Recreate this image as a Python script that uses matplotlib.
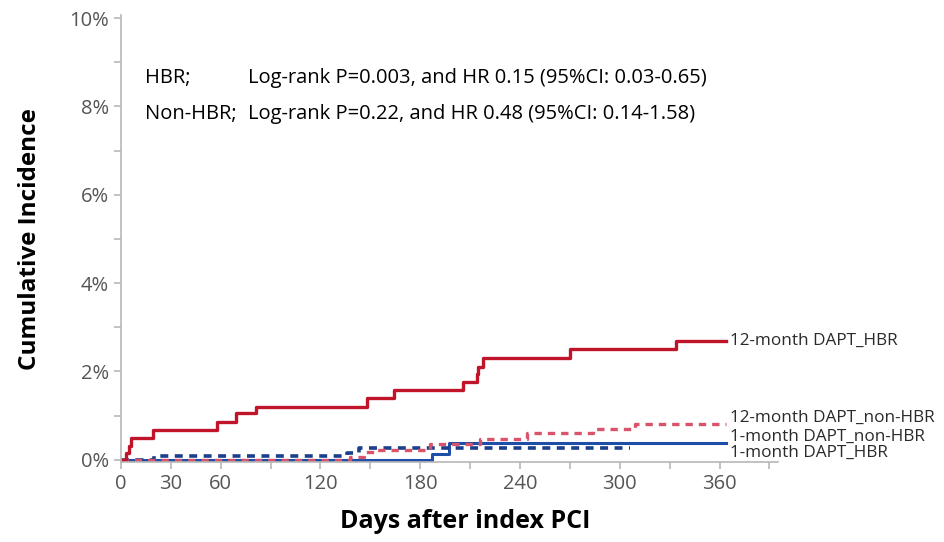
import matplotlib
matplotlib.use("Agg")
import matplotlib.pyplot as plt

plt.rcParams['font.family'] = ['Open Sans', 'DejaVu Sans']

# 12-month DAPT, HBR (red solid)
red_solid_days = [0, 3, 5, 6, 19, 58, 69, 81, 148, 164, 206, 214, 215, 218, 270, 334, 364]
red_solid_pct  = [0, 0.15, 0.32, 0.50, 0.68, 0.85, 1.05, 1.20, 1.40, 1.58, 1.76, 1.94, 2.10, 2.30, 2.50, 2.70, 2.70]

# 12-month DAPT, non-HBR (red dashed)
red_dash_days = [0, 138, 146, 154, 186, 216, 244, 284, 309, 364]
red_dash_pct  = [0, 0.07, 0.18, 0.23, 0.36, 0.48, 0.60, 0.70, 0.82, 0.82]

# 1-month DAPT (blue solid)
blue_solid_days = [0, 187, 197, 364]
blue_solid_pct  = [0, 0.13, 0.37, 0.37]

# 1-month DAPT (blue dashed)
blue_dash_days = [0, 20, 136, 143, 306]
blue_dash_pct  = [0, 0.08, 0.15, 0.27, 0.27]

curve_labels = ["12-month DAPT_HBR", "12-month DAPT_non-HBR",
                "1-month DAPT_non-HBR", "1-month DAPT_HBR"]
label_y = [2.70, 0.96, 0.52, 0.15]

x_major = [0, 30, 60, 120, 180, 240, 300, 360]
x_minor = [90, 150, 210, 270, 330, 390]
y_major = [0, 2, 4, 6, 8, 10]
y_minor = [1, 3, 5, 7, 9]

RED = "#c0142b"
RED_D = "#d9546a"
BLUE = "#1d4fa8"
BLUE_D = "#1a3f8c"

fig = plt.figure(figsize=(9.45, 5.42), dpi=100)
ax = fig.add_axes([0.128, 0.1476, 0.695, 0.8247])

ax.step(blue_solid_days, blue_solid_pct, where='post', color=BLUE, lw=2.2)
ax.step(blue_dash_days, blue_dash_pct, where='post', color=BLUE_D, lw=2.6, ls=(0, (2.2, 1.8)))
ax.step(red_dash_days, red_dash_pct, where='post', color=RED_D, lw=2.4, ls=(0, (2.2, 1.8)))
ax.step(red_solid_days, red_solid_pct, where='post', color=RED, lw=2.4)

for lab, yv in zip(curve_labels, label_y):
    ax.text(366, yv, lab, fontsize=12.3, color="#2a2a2a", va='center', ha='left')

ax.set_xlim(0, 395)
ax.set_ylim(-0.05, 10.07)
ax.set_xticks(x_major)
ax.set_xticks(x_minor, minor=True)
ax.set_yticks(y_major)
ax.set_yticks(y_minor, minor=True)
ax.set_yticklabels([f"{v}%" for v in y_major])

for s in ['top', 'right']:
    ax.spines[s].set_visible(False)
for s in ['left', 'bottom']:
    ax.spines[s].set_color('#b8b8b8')
    ax.spines[s].set_linewidth(1.2)
ax.tick_params(axis='both', which='both', color='#b8b8b8', length=5, width=1.2,
               labelsize=14.5, labelcolor='#555555')

ax.text(0.0365, 0.859, "HBR;", transform=ax.transAxes, fontsize=14.5, va='center')
ax.text(0.193, 0.859, "Log-rank P=0.003, and HR 0.15 (95%CI: 0.03-0.65)",
        transform=ax.transAxes, fontsize=14.5, va='center')
ax.text(0.0365, 0.778, "Non-HBR;", transform=ax.transAxes, fontsize=14.5, va='center')
ax.text(0.193, 0.778, "Log-rank P=0.22, and HR 0.48 (95%CI: 0.14-1.58)",
        transform=ax.transAxes, fontsize=14.5, va='center')

fig.text(0.032, 0.559, "Cumulative Incidence", rotation=90, fontsize=17.5,
         fontweight='bold', va='center', ha='center')
fig.text(0.492, 0.037, "Days after index PCI", fontsize=18,
         fontweight='bold', va='center', ha='center')

fig.savefig("out.png", dpi=100)
